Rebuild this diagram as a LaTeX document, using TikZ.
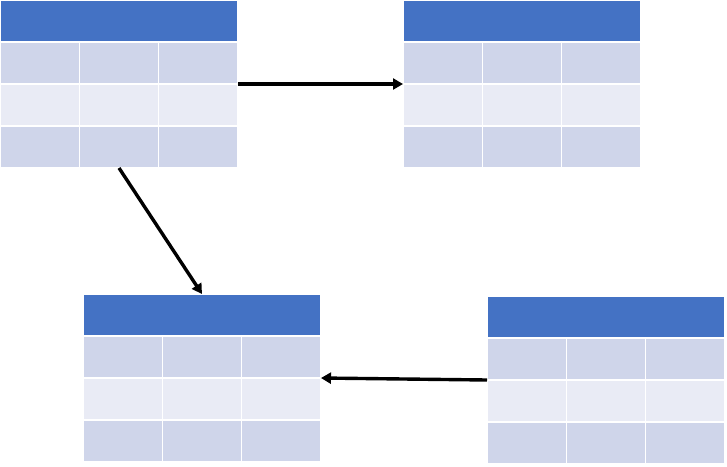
\documentclass[tikz,border=0pt]{standalone}
\usetikzlibrary{arrows.meta}
\definecolor{hdrblue}{HTML}{4472C4}
\definecolor{rowdark}{HTML}{CFD5EA}
\definecolor{rowlight}{HTML}{E9EBF5}
\tikzset{
  cellbase/.style={rectangle, inner sep=0pt, outer sep=0pt, draw=white, line width=1.2pt, anchor=north west},
  hdrcell/.style={cellbase, fill=hdrblue, line width=2pt, minimum width=238pt, minimum height=42pt},
  bodycell/.style={cellbase, minimum width=79.33pt, minimum height=42pt},
  link/.style={line width=3.4pt, -{Triangle[length=10pt,width=11pt]}}
}
\newcommand\mytable[3]{%
  \node[hdrcell] (#1h) at (#2,#3) {};
  \foreach \r/\col in {1/rowdark,2/rowlight,3/rowdark}{
    \foreach \c in {1,2,3}{
      \node[bodycell, fill=\col] (#1r\r c\c) at ({#2+(\c-1)*79.33},{#3+42*\r}) {};
    }
  }%
}
\begin{document}
\begin{tikzpicture}[x=1pt,y=-1pt]
\useasboundingbox (0,0) rectangle (727,466);
\mytable{ta}{0}{0}
\mytable{tb}{403}{0}
\mytable{tc}{83}{294}
\mytable{td}{487}{296}
\draw[link] (tar1c3.south east) -- (tbr2c1.north west);
\draw[link] (tar3c2.south) -- (tch.north);
\draw[link] (tdr2c1.north west) -- (tcr2c3.north east);
\end{tikzpicture}
\end{document}
